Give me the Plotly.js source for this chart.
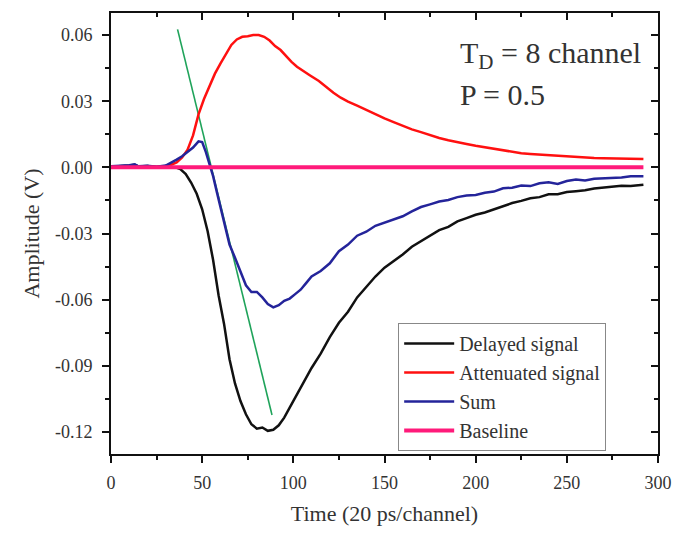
<!DOCTYPE html>
<html>
<head>
<meta charset="utf-8">
<script src="https://cdn.plot.ly/plotly-3.0.1.min.js"></script>
<style>html,body{margin:0;padding:0;background:#fff;}#chart{width:682px;height:534px;}</style>
</head>
<body>
<div id="chart"></div>
<script>
// Delayed signal
const delayedX = [0,5,10,13,15,20,25,30,35,38,41,44,47,50,53,56,59,62,65,68,71,74,77,80,83,86,89,92,95,98,101,105,110,115,120,125,130,135,140,145,150,155,160,165,170,175,180,185,190,195,200,205,210,215,220,225,230,235,240,245,250,255,260,265,270,275,280,285,290,292];
const delayedY = [0.0003,0.0005,0.0008,0.0012,0.0004,0.0006,0.0002,0.0003,0.0001,-0.0008,-0.003,-0.007,-0.012,-0.019,-0.029,-0.042,-0.058,-0.071,-0.087,-0.098,-0.106,-0.112,-0.1165,-0.1185,-0.118,-0.1195,-0.119,-0.117,-0.1135,-0.109,-0.1045,-0.098,-0.091,-0.0845,-0.077,-0.0705,-0.0655,-0.059,-0.0545,-0.0495,-0.0455,-0.0425,-0.0395,-0.036,-0.0335,-0.031,-0.0285,-0.027,-0.0245,-0.023,-0.0215,-0.0205,-0.019,-0.0175,-0.0162,-0.0152,-0.014,-0.0135,-0.0122,-0.0122,-0.0112,-0.0108,-0.0104,-0.0096,-0.0092,-0.0088,-0.0083,-0.0085,-0.0079,-0.0079];

// Attenuated signal
const attenX = [0,5,10,15,20,25,30,33,36,39,42,45,48,51,54,57,60,63,66,69,72,75,78,81,84,87,90,93,96,99,102,105,109,114,118,122,126,130,135,140,145,150,155,160,165,170,175,180,185,190,195,200,205,210,215,220,225,230,235,240,245,250,255,260,265,270,275,280,285,290,292];
const attenY = [0.0002,0.0004,0.0006,0.0003,0.0005,0.0002,0.0006,0.0012,0.0022,0.0045,0.008,0.0145,0.024,0.031,0.037,0.0425,0.047,0.0515,0.0555,0.058,0.0592,0.0595,0.06,0.06,0.0592,0.0575,0.055,0.0532,0.0505,0.0478,0.0456,0.0438,0.0418,0.0392,0.0365,0.0338,0.0316,0.0298,0.028,0.026,0.024,0.0222,0.0205,0.0188,0.0172,0.016,0.0145,0.0133,0.0123,0.0113,0.0106,0.0098,0.0091,0.0083,0.0076,0.007,0.0064,0.0061,0.0058,0.0055,0.0052,0.005,0.0047,0.0045,0.0042,0.0041,0.004,0.0038,0.0039,0.0037,0.0038];

// Sum
const sumX = [0,5,10,13,15,20,25,30,33,36,39,42,45,48,50,52,54,56,58,60,62,65,68,71,74,77,80,83,86,89,92,95,98,101,104,107,110,115,120,125,130,135,140,145,150,155,160,165,170,175,180,185,190,195,200,205,210,215,220,225,230,235,240,245,250,255,260,265,270,275,280,285,290,292];
const sumY = [0.0005,0.0006,0.001,0.0014,0.0005,0.0007,0.0003,0.0008,0.002,0.0035,0.005,0.0068,0.009,0.0118,0.0115,0.007,0.002,-0.004,-0.011,-0.018,-0.0255,-0.035,-0.041,-0.047,-0.0535,-0.0565,-0.0565,-0.059,-0.062,-0.0635,-0.0625,-0.0605,-0.0595,-0.0575,-0.0555,-0.0525,-0.0495,-0.047,-0.0435,-0.038,-0.035,-0.031,-0.0292,-0.0265,-0.025,-0.0235,-0.0222,-0.02,-0.018,-0.0168,-0.0155,-0.0148,-0.0135,-0.0128,-0.0125,-0.0115,-0.011,-0.0095,-0.0092,-0.0082,-0.0085,-0.0072,-0.0068,-0.0075,-0.0062,-0.0055,-0.006,-0.0052,-0.005,-0.0045,-0.0046,-0.004,-0.0042,-0.004];

// Baseline
const baseX = [0,292];
const baseY = [0,0];

// Tangent line
const tangentX = [36.5,88.3];
const tangentY = [0.0626,-0.1123];

const xRange = [0,300];
const yRange = [-0.13,0.07];
const yTicks = [-0.12,-0.09,-0.06,-0.03,0.00,0.03,0.06];
const yTickText = ['-0.12','-0.09','-0.06','-0.03','0.00','0.03','0.06'];
const yMinor = [-0.105,-0.075,-0.045,-0.015,0.015,0.045];

const serif = 'Liberation Serif, Times New Roman, serif';

const traces = [
  {x:tangentX,y:tangentY,mode:'lines',line:{color:'#1fa35a',width:1.6},showlegend:false,hoverinfo:'skip'},
  {x:delayedX,y:delayedY,mode:'lines',name:'Delayed signal',line:{color:'#111111',width:2.5}},
  {x:attenX,y:attenY,mode:'lines',name:'Attenuated signal',line:{color:'#ff1010',width:2.5}},
  {x:sumX,y:sumY,mode:'lines',name:'Sum',line:{color:'#24249a',width:2.5}},
  {x:baseX,y:baseY,mode:'lines',name:'Baseline',line:{color:'#ff1a7a',width:4}},
  {x:xRange,y:yRange,xaxis:'x2',yaxis:'y2',mode:'lines',line:{width:0},opacity:0,showlegend:false,hoverinfo:'skip'}
];

const layout = {
  width:682,height:534,
  margin:{l:111,r:24,t:13,b:80},
  paper_bgcolor:'#ffffff',plot_bgcolor:'#ffffff',
  font:{family:serif,color:'#333333',size:18},
  showlegend:true,
  legend:{x:0.525,y:0.297,xanchor:'left',yanchor:'top',bgcolor:'#ffffff',bordercolor:'#888888',borderwidth:1,
          font:{family:serif,size:20,color:'#333333'},itemwidth:50,tracegroupgap:0},
  xaxis:{range:xRange,dtick:50,tick0:0,ticks:'outside',ticklen:7,tickwidth:2,tickcolor:'#111',
         showline:true,linecolor:'#111',linewidth:2,showgrid:false,zeroline:false,
         tickfont:{family:serif,size:18,color:'#333'},ticklabelstandoff:4,
         minor:{dtick:25,ticks:'outside',ticklen:4,tickwidth:2,tickcolor:'#111'},
         title:{text:'Time (20 ps/channel)',font:{family:serif,size:22,color:'#333'},standoff:14}},
  yaxis:{range:yRange,tickvals:yTicks,ticktext:yTickText,ticks:'outside',ticklen:7,tickwidth:2,tickcolor:'#111',
         showline:true,linecolor:'#111',linewidth:2,showgrid:false,zeroline:false,
         tickfont:{family:serif,size:18,color:'#333'},ticklabelstandoff:6,
         minor:{tickvals:yMinor,ticks:'outside',ticklen:4,tickwidth:2,tickcolor:'#111'},
         title:{text:'Amplitude (V)',font:{family:serif,size:22,color:'#333'},standoff:9}},
  xaxis2:{range:xRange,overlaying:'x',side:'top',dtick:50,tick0:0,ticks:'inside',ticklen:7,tickwidth:2,tickcolor:'#111',
          showline:true,linecolor:'#111',linewidth:2,showgrid:false,zeroline:false,showticklabels:false,
          minor:{dtick:25,ticks:'inside',ticklen:4,tickwidth:2,tickcolor:'#111'}},
  yaxis2:{range:yRange,overlaying:'y',side:'right',tickvals:yTicks,ticks:'inside',ticklen:7,tickwidth:2,tickcolor:'#111',
          showline:true,linecolor:'#111',linewidth:2,showgrid:false,zeroline:false,showticklabels:false,
          minor:{tickvals:yMinor,ticks:'inside',ticklen:4,tickwidth:2,tickcolor:'#111'}},
  annotations:[
    {xref:'paper',yref:'paper',x:0.634,y:0.905,xanchor:'left',yanchor:'middle',showarrow:false,
     text:'T<sub>D</sub> = 8 channel',font:{family:serif,size:30,color:'#333'}},
    {xref:'paper',yref:'paper',x:0.634,y:0.815,xanchor:'left',yanchor:'middle',showarrow:false,
     text:'P = 0.5',font:{family:serif,size:30,color:'#333'}}
  ]
};

Plotly.newPlot('chart',traces,layout,{displayModeBar:false,staticPlot:true});
</script>
</body>
</html>
